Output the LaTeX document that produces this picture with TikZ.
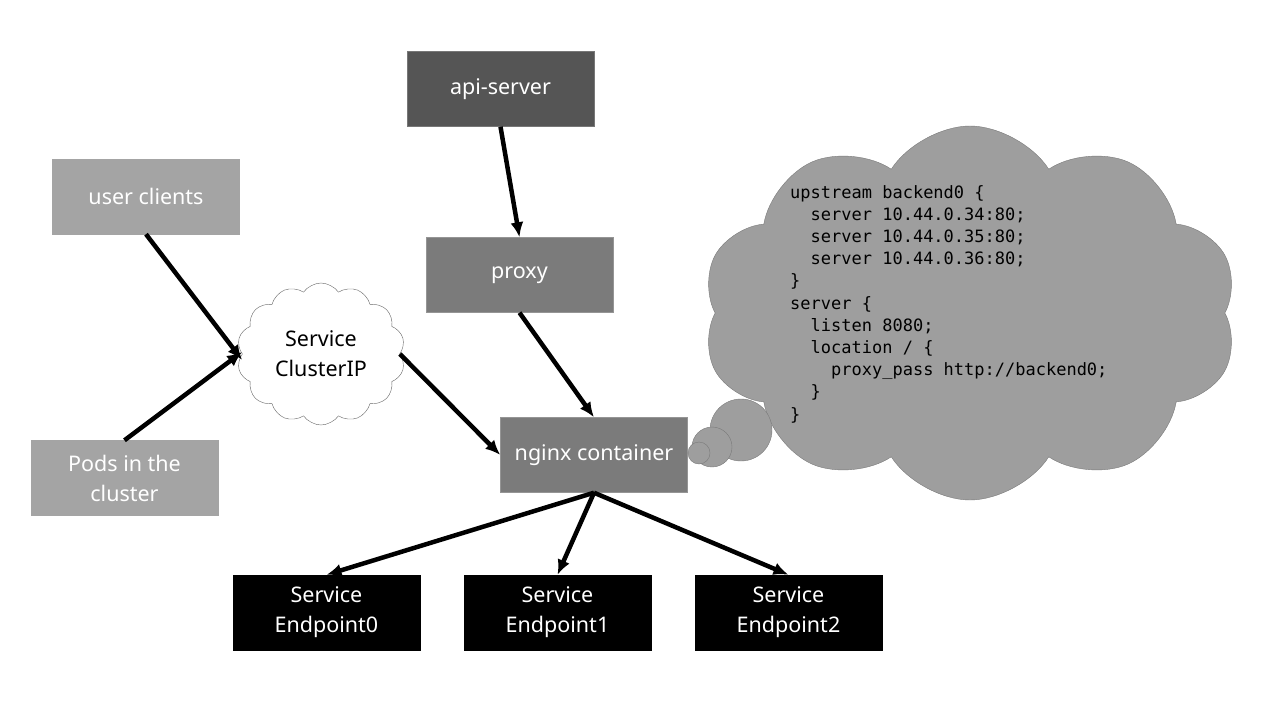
\documentclass[tikz,border=0pt]{standalone}
\usepackage{fontspec}
\setmainfont{Noto Sans}
\setmonofont{DejaVu Sans Mono}
\usetikzlibrary{shapes.symbols,arrows.meta}
\tikzset{>={Latex[length=15pt,width=13pt]}}
\definecolor{apigray}{HTML}{555555}
\definecolor{midgray}{HTML}{7B7B7B}
\definecolor{lightgray}{HTML}{A4A4A4}
\definecolor{notegray}{HTML}{9E9E9E}
\definecolor{edgegray}{HTML}{7A7A7A}
\newcommand{\codeindent}{\phantom{xx}}

\begin{document}
\begin{tikzpicture}[x=1pt, y=-1pt,
    box/.style={rectangle, minimum width=187pt, minimum height=75pt, inner sep=2pt,
        text=white, align=center, font=\fontsize{21.5}{30}\selectfont},
    darkbox/.style={box, fill=apigray, draw=apigray!80!white},
    midbox/.style={box, fill=midgray, draw=midgray!80!white},
    lightbox/.style={box, fill=lightgray, draw=lightgray},
    epbox/.style={box, fill=black, draw=black},
    svccloud/.style={cloud, cloud puffs=14, cloud puff arc=110, aspect=1.2,
        minimum width=168pt, minimum height=142pt, inner sep=0pt,
        draw=black!60, fill=white, align=center, font=\fontsize{21.5}{30}\selectfont},
    notecloud/.style={cloud, cloud puffs=10, cloud puff arc=115, aspect=1.43,
        minimum width=536pt, minimum height=374pt, draw=edgegray, fill=notegray},
    bubble/.style={circle, inner sep=0pt, draw=edgegray, fill=notegray},
    codetext/.style={inner sep=0pt, align=left, font=\ttfamily\fontsize{17}{22.2}\selectfont},
    arrow/.style={->, line width=4.5pt}]

    \useasboundingbox (0,0) rectangle (1280,720);

    % Boxes
    \node[darkbox] (api) at (500.5,89) {api-server};
    \node[midbox] (proxy) at (519.5,275) {proxy};
    \node[lightbox] (users) at (146,196.5) {user clients};
    \node[lightbox] (pods) at (124.5,478) {Pods in the\\cluster};
    \node[svccloud] (cip) at (321,354) {Service\\ClusterIP};
    \node[midbox] (nginx) at (594,455) {nginx container};

    % Endpoints
    \node[epbox] (ep0) at (326.5,612.5) {Service\\Endpoint0};
    \node[epbox] (ep1) at (557.5,612.5) {Service\\Endpoint1};
    \node[epbox] (ep2) at (788.5,612.5) {Service\\Endpoint2};

    % Config cloud
    \node[notecloud] (note) at (970,313) {};
    \node[bubble, minimum size=62pt] (b1) at (741,430) {};
    \node[bubble, minimum size=40pt] (b2) at (712,447) {};
    \node[bubble, minimum size=22pt] (b3) at (699,453) {};
    \node[codetext, anchor=north west] (code) at (790,185) {%
        upstream backend0 \{\\
        \codeindent server 10.44.0.34:80;\\
        \codeindent server 10.44.0.35:80;\\
        \codeindent server 10.44.0.36:80;\\
        \}\\
        server \{\\
        \codeindent listen 8080;\\
        \codeindent location / \{\\
        \codeindent\codeindent proxy\_pass http://backend0;\\
        \codeindent \}\\
        \}};

    % Connectors
    \draw[arrow] (api.south) -- (proxy.north);
    \draw[arrow] (users.south) -- ([yshift=-6pt]cip.west);
    \draw[arrow] (pods.north) -- ([yshift=2pt]cip.west);
    \draw[arrow] (cip.east) -- (nginx.west);
    \draw[arrow] (proxy.south) -- (nginx.north);
    \draw[arrow] (nginx.south) -- (ep0.north);
    \draw[arrow] (nginx.south) -- (ep1.north);
    \draw[arrow] (nginx.south) -- (ep2.north);

\end{tikzpicture}
\end{document}
